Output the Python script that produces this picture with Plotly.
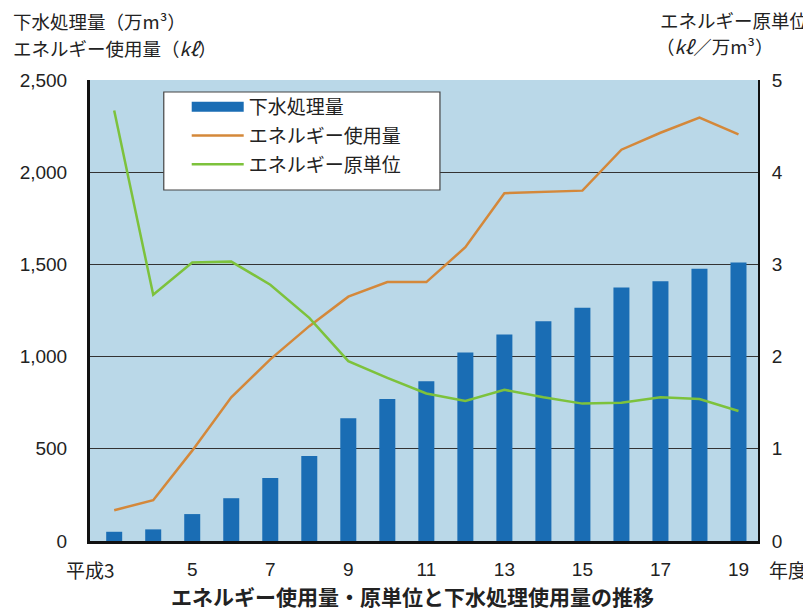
import plotly.graph_objects as go

years = list(range(3, 20))
sewage = [50, 63, 146, 232, 342, 461, 666, 770, 866, 1022, 1120, 1192, 1265, 1375, 1409, 1476, 1510]
energy = [167, 221, 490, 779, 985, 1165, 1325, 1404, 1404, 1593, 1886, 1893, 1900, 2122, 2214, 2296, 2205]
intensity = [4.67, 2.67, 3.02, 3.03, 2.78, 2.42, 1.95, 1.77, 1.60, 1.52, 1.64, 1.56, 1.49, 1.50, 1.56, 1.54, 1.41]

x_tickvals = [3, 5, 7, 9, 11, 13, 15, 17, 19]
x_ticktext = ["", "5", "7", "9", "11", "13", "15", "17", "19"]
left_ticks = [0, 500, 1000, 1500, 2000, 2500]
left_ticktext = ["0", "500", "1,000", "1,500", "2,000", "2,500"]
right_ticks = [0, 1, 2, 3, 4, 5]

JP = "Noto Sans CJK JP"
NUM = "Liberation Sans, Arial, Noto Sans CJK JP"
TXT = "#222"
BLUE = "#1a6db4"

# page body has an 8px margin: figure is drawn at (8, 8)
W, H = 803, 602
L, T = 80, 72
PW, PH = 670, 461


def px_x(page_x):
    return (page_x - 88) / PW


def px_y(page_y):
    return (541 - page_y) / PH


fig = go.Figure()
fig.add_trace(go.Bar(x=years, y=sewage, name="下水処理量", marker=dict(color=BLUE, line=dict(width=0)),
                     width=0.41, yaxis="y", showlegend=False, legendgroup="a"))
# legend entry for the bars (wide bar swatch)
fig.add_trace(go.Scatter(x=[None], y=[None], name="下水処理量", mode="lines",
                         line=dict(color=BLUE, width=11), legendgroup="a", hoverinfo="skip"))
fig.add_trace(go.Scatter(x=years, y=energy, name="エネルギー使用量", mode="lines",
                         line=dict(color="#d4883a", width=2.5), yaxis="y", legendgroup="b"))
fig.add_trace(go.Scatter(x=years, y=intensity, name="エネルギー原単位", mode="lines",
                         line=dict(color="#7dc23c", width=2.5), yaxis="y2", legendgroup="c"))

fig.update_layout(
    width=W, height=H,
    margin=dict(l=L, r=W - L - PW, t=T, b=H - T - PH),
    paper_bgcolor="white",
    plot_bgcolor="#bad8e8",
    font=dict(family=NUM, size=19, color=TXT),
    showlegend=True,
    legend=dict(
        x=px_x(185), y=px_y(88), xanchor="left", yanchor="top",
        bgcolor="rgba(0,0,0,0)", borderwidth=0,
        font=dict(family=JP, size=19, color=TXT),
        itemwidth=52, tracegroupgap=1,
    ),
    xaxis=dict(
        range=[2.38, 19.5], tickmode="array", tickvals=x_tickvals, ticktext=x_ticktext,
        showgrid=False, zeroline=False, showline=True, linecolor="#111", linewidth=3,
        ticks="", ticklabelstandoff=9, tickfont=dict(family=NUM, size=19, color=TXT),
    ),
    yaxis=dict(
        range=[0, 2500], tickmode="array", tickvals=left_ticks, ticktext=left_ticktext,
        showgrid=True, gridcolor="#333", gridwidth=1, zeroline=False,
        showline=True, linecolor="#111", linewidth=3, ticks="", ticklabelstandoff=16,
        tickfont=dict(family=NUM, size=19, color=TXT),
    ),
    yaxis2=dict(
        range=[0, 5], overlaying="y", side="right", tickmode="array", tickvals=right_ticks,
        showgrid=False, zeroline=False, showline=True, linecolor="#111", linewidth=2,
        ticks="", ticklabelstandoff=8, tickfont=dict(family=NUM, size=19, color=TXT),
    ),
)

# legend frame
fig.add_shape(type="rect", xref="paper", yref="paper", x0=px_x(162), x1=px_x(439), y0=px_y(190), y1=px_y(92),
              fillcolor="white", line=dict(color="#444", width=1.2), layer="above")

ann_font = dict(family=JP, size=18.5, color=TXT)
fig.add_annotation(text="下水処理量（万m³）", xref="paper", yref="paper", x=px_x(10), y=px_y(21),
                   xanchor="left", yanchor="middle", showarrow=False, font=ann_font, borderpad=0)
fig.add_annotation(text="エネルギー使用量（<i>kℓ</i>）", xref="paper", yref="paper", x=px_x(10), y=px_y(48),
                   xanchor="left", yanchor="middle", showarrow=False, font=ann_font, borderpad=0)
fig.add_annotation(text="エネルギー原単位", xref="paper", yref="paper", x=px_x(809), y=px_y(20),
                   xanchor="right", yanchor="middle", showarrow=False, font=ann_font, borderpad=0)
fig.add_annotation(text="（<i>kℓ</i>／万m³）", xref="paper", yref="paper", x=px_x(655), y=px_y(46),
                   xanchor="left", yanchor="middle", showarrow=False, font=ann_font, borderpad=0)
fig.add_annotation(text="平成3", xref="x", yref="paper", x=3, xshift=2, y=px_y(569),
                   xanchor="right", yanchor="middle", showarrow=False, font=dict(family=JP, size=19, color=TXT),
                   borderpad=0)
fig.add_annotation(text="年度", xref="paper", yref="paper", x=px_x(768), y=px_y(569),
                   xanchor="left", yanchor="middle", showarrow=False, font=dict(family=JP, size=19, color=TXT),
                   borderpad=0)
fig.add_annotation(text="<b>エネルギー使用量・原単位と下水処理使用量の推移</b>", xref="paper", yref="paper",
                   x=px_x(411), y=px_y(596), xanchor="center", yanchor="middle", showarrow=False,
                   font=dict(family=JP, size=21, color=TXT), borderpad=0)

fig.write_html("out.html")
